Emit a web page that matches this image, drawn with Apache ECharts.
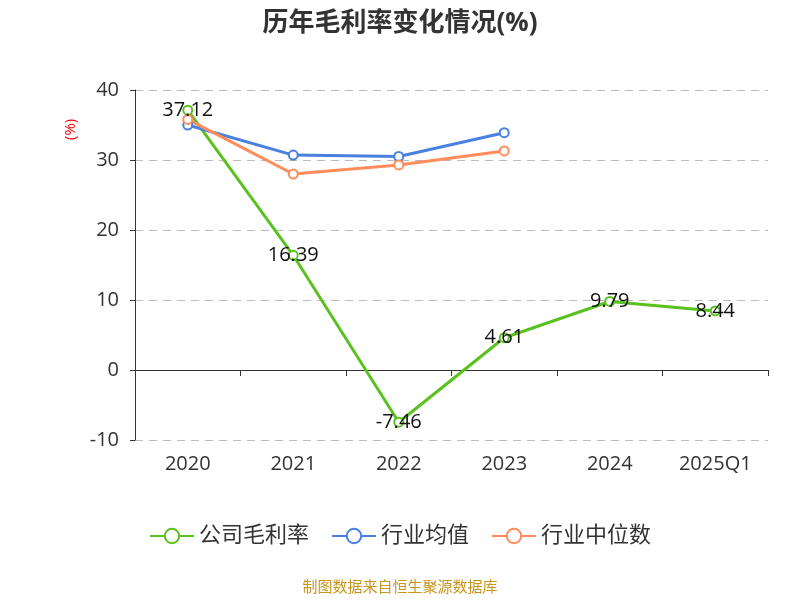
<!DOCTYPE html><html><head><meta charset="utf-8"><script src="https://cdn.jsdelivr.net/npm/echarts@6/dist/echarts.min.js"></script></head><body style="margin:0"><div id="c" style="width:800px;height:600px"></div><script>
const categories=['2020','2021','2022','2023','2024','2025Q1'];
const company=[37.12,16.39,-7.46,4.61,9.79,8.44];
const industryAvg=[35.0,30.7,30.5,33.9,null,null];
const industryMedian=[35.8,28.0,29.3,31.3,null,null];
const yTicks={min:-10,max:40,interval:10};
const f='"Open Sans","Noto Sans CJK SC",sans-serif';
const ch=echarts.init(document.getElementById('c'));
ch.setOption({
title:{text:'历年毛利率变化情况(%)',left:'center',top:6,textStyle:{fontSize:26,fontWeight:'bold',color:'#333',fontFamily:f}},
graphic:[{type:'text',left:'center',top:580,style:{text:'制图数据来自恒生聚源数据库',fill:'#c8961e',fontSize:15,fontFamily:f}},
{type:'text',x:63,y:140,rotation:Math.PI/2,style:{text:'(%)',fill:'#e00',fontSize:15,fontFamily:f}}],
legend:{bottom:48,itemWidth:44,itemHeight:18,itemGap:22,textStyle:{fontSize:22,color:'#333',fontFamily:f},data:['公司毛利率','行业均值','行业中位数']},
grid:{left:135,right:32,top:90,bottom:160},
xAxis:[{type:'category',data:categories,position:'bottom',axisLine:{show:false,onZero:false},axisTick:{show:false},axisLabel:{fontSize:20,color:'#333',margin:14,fontFamily:f}},
{type:'category',data:categories,position:'bottom',axisLine:{onZero:true,lineStyle:{color:'#333'}},axisTick:{show:true,length:6},axisLabel:{show:false}}],
yAxis:{type:'value',min:yTicks.min,max:yTicks.max,interval:yTicks.interval,axisLine:{show:true,lineStyle:{color:'#333'}},axisTick:{show:true},axisLabel:{fontSize:20,color:'#333',margin:16,fontFamily:f},splitLine:{lineStyle:{type:[8,6],color:'#bbb'}}},
series:[
{name:'公司毛利率',type:'line',data:company,color:'#5ac21e',symbol:'emptyCircle',symbolSize:9,lineStyle:{width:3},label:{show:true,position:'inside',fontSize:20,color:'#111',fontFamily:f}},
{name:'行业均值',type:'line',data:industryAvg,color:'#4a80e0',symbol:'emptyCircle',symbolSize:9,lineStyle:{width:3}},
{name:'行业中位数',type:'line',data:industryMedian,color:'#ff8c5a',symbol:'emptyCircle',symbolSize:9,lineStyle:{width:3}}
]});
</script></body></html>
